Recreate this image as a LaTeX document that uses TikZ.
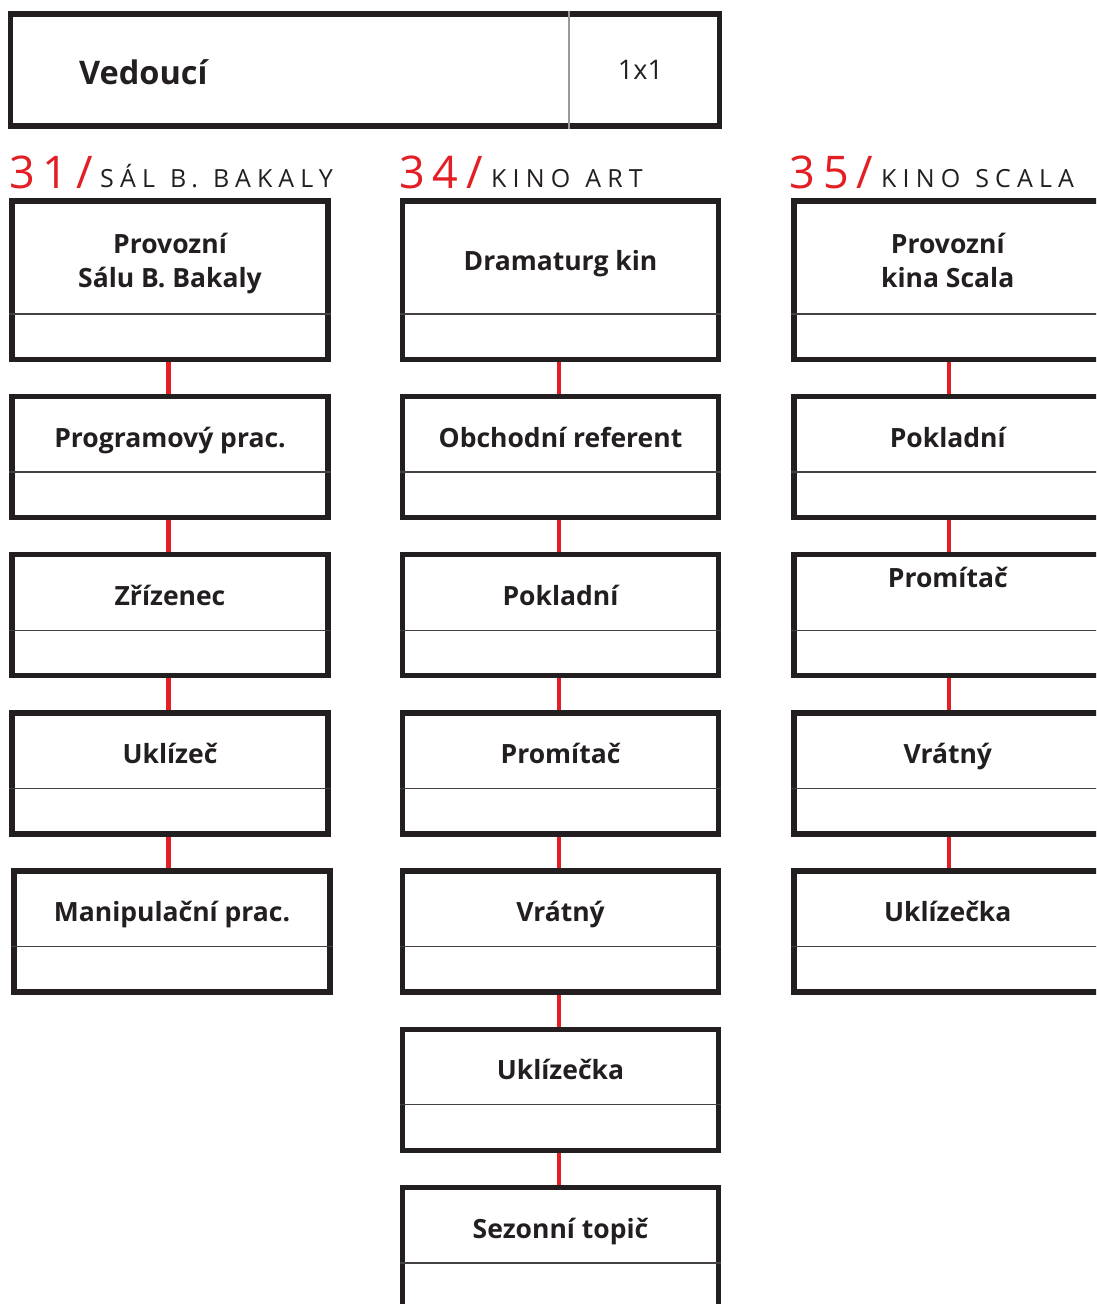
\documentclass[tikz,border=0pt]{standalone}
\usepackage{fontspec}
\setmainfont{Open Sans}
\newfontfamily\hnumfont[LetterSpace=18]{Open Sans}
\newfontfamily\htxtfont[LetterSpace=24.5,WordSpace=1.2]{Open Sans}
\usetikzlibrary{calc}
\definecolor{ink}{RGB}{35,31,32}
\definecolor{myred}{RGB}{227,30,36}
\tikzset{
  frame/.style={draw=ink, line width=5.5pt, rectangle, inner sep=0pt, minimum width=316pt},
  divline/.style={draw=ink!85, line width=1.3pt},
  vdiv/.style={draw=black!40, line width=2pt},
  lbl/.style={inner sep=0pt, align=center, text=ink, anchor=base, font=\fontsize{26.5}{33.4}\selectfont\bfseries},
  conn/.style={draw=myred, line width=4.2pt},
  hnum/.style={inner sep=0pt, text=myred, font=\fontsize{45}{45}\selectfont\hnumfont},
  htxt/.style={inner sep=0pt, text=ink, font=\fontsize{25}{25}\selectfont\htxtfont},
}
% name, box centre x, top y (line centre), height, text x offset, text y offset, text
\newcommand{\orgbox}[7]{%
  \node[frame, minimum height=#4pt, anchor=north] (#1) at (#2,#3-2.75) {};
  \draw[divline] ([yshift=48.25pt]#1.south west) -- ([yshift=48.25pt]#1.south east);
  \node[lbl] (#1t) at ($(#1.north)!0.5!([yshift=48.25pt]#1.south)+(#5,14.2+#6)$) {#7};
}
\begin{document}
\begin{tikzpicture}[x=1pt,y=-1pt]
\useasboundingbox (0,0) rectangle (1096,1304);
\clip (0,0) rectangle (1096,1304);
\fill[white] (0,0) rectangle (1096,1304);

% top box
\node[frame, minimum width=709pt, minimum height=112pt, anchor=north west] (top) at (7.75,11.45) {};
\draw[vdiv] ([xshift=203.5pt]top.north) -- ([xshift=203.5pt]top.south);
\node[inner sep=0pt, anchor=base west, text=ink, font=\fontsize{32.5}{32.5}\selectfont\bfseries] (ved) at (79,84) {Vedoucí};
\node[inner sep=0pt, anchor=base, text=ink, font=\fontsize{27}{27}\selectfont] (n1x1) at (640.5,79.3) {1x1};

% headers
\node[hnum, anchor=base west] (h31) at (9,188.3) {31/};
\node[htxt, anchor=base west] (h31t) at (100,187) {SÁL B. BAKALY};
\node[hnum, anchor=base west] (h34) at (399,188.3) {34/};
\node[htxt, anchor=base west] (h34t) at (491,187) {KINO ART};
\node[hnum, anchor=base west] (h35) at (789,188.3) {35/};
\node[htxt, anchor=base west] (h35t) at (881,187) {KINO SCALA};

% column 1
\orgbox{a1}{170}{201}{158.5}{0}{16.7}{Provozní\\Sálu B. Bakaly}
\orgbox{a2}{170}{396.5}{121}{0}{0}{Programový prac.}
\orgbox{a3}{170}{554.7}{121}{0}{0}{Zřízenec}
\orgbox{a4}{170}{712.9}{121}{0}{0}{Uklízeč}
\orgbox{a5}{172}{871.1}{121}{0}{0}{Manipulační prac.}

% column 2
\orgbox{b1}{560.5}{201}{158.5}{0}{0}{Dramaturg kin}
\orgbox{b2}{560.5}{396.5}{121}{0}{0}{Obchodní referent}
\orgbox{b3}{560.5}{554.7}{121}{0}{0}{Pokladní}
\orgbox{b4}{560.5}{712.9}{121}{0}{0}{Promítač}
\orgbox{b5}{560.5}{871.1}{121}{0}{0}{Vrátný}
\orgbox{b6}{560.5}{1029.3}{121}{0}{0}{Uklízečka}
\orgbox{b7}{560.5}{1187.5}{121}{0}{0}{Sezonní topič}

% column 3
\orgbox{c1}{951.75}{201}{158.5}{-4}{16.7}{Provozní\\kina Scala}
\orgbox{c2}{951.75}{396.5}{121}{-4}{0}{Pokladní}
\orgbox{c3}{951.75}{554.7}{121}{-4}{-18}{Promítač}
\orgbox{c4}{951.75}{712.9}{121}{-4}{0}{Vrátný}
\orgbox{c5}{951.75}{871.1}{121}{-4}{0}{Uklízečka}

% connectors
\foreach \u/\v in {a1/a2,a2/a3,a3/a4,a4/a5,b1/b2,b2/b3,b3/b4,b4/b5,b5/b6,b6/b7}
  \draw[conn] ([xshift=-1.5pt]\u.south) -- ([xshift=-1.5pt]\u.south |- \v.north);
\foreach \u/\v in {c1/c2,c2/c3,c3/c4,c4/c5}
  \draw[conn] ([xshift=-2.75pt]\u.south) -- ([xshift=-2.75pt]\u.south |- \v.north);
\end{tikzpicture}
\end{document}
